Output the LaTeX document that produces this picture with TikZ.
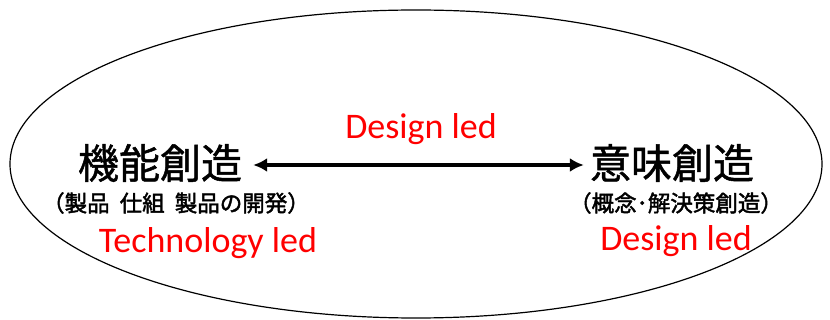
\documentclass[tikz,border=0pt]{standalone}
\usepackage{fontspec}
\setmainfont{Carlito}
\newfontfamily\jpfont[FakeBold=1.2]{Noto Sans CJK JP}
\newfontfamily\jpsubfont[FakeBold=2]{Noto Sans CJK JP}
\usetikzlibrary{arrows.meta,positioning}

\begin{document}
\begin{tikzpicture}[
  x=1pt, y=-1pt,
  title/.style={font=\jpfont\fontsize{41}{44}\selectfont, inner sep=0pt},
  sub/.style={font=\jpsubfont\fontsize{22.5}{24}\selectfont, inner sep=0pt},
  led/.style={font=\fontsize{36}{38}\selectfont, text=red, inner sep=0pt},
  arr/.style={{Latex[length=14pt,width=14pt]}-{Latex[length=14pt,width=14pt]}, line width=4pt}
]
\useasboundingbox (0,0) rectangle (830,320);
\draw[line width=1.2pt] (416,164) ellipse [x radius=406, y radius=154];
\node[title] (func) at (160,163) {機能創造};
\node[title] (mean) at (672,163) {意味創造};
\node[sub] (funcsub) at (176,203) {（製品\ \ 仕組\ \ 製品の開発）};
\node[sub] (meansub) at (676,203) {（概念･解決策創造）};
\node[led] (top) at (421,129) {Design led};
\node[led] (tech) at (208,243) {Technology led};
\node[led] (des) at (676,241) {Design led};
\path (func.east) ++(11,2) coordinate (a) (mean.west) ++(-6,2) coordinate (b);
\draw[arr] (a) -- (b);
\end{tikzpicture}
\end{document}
